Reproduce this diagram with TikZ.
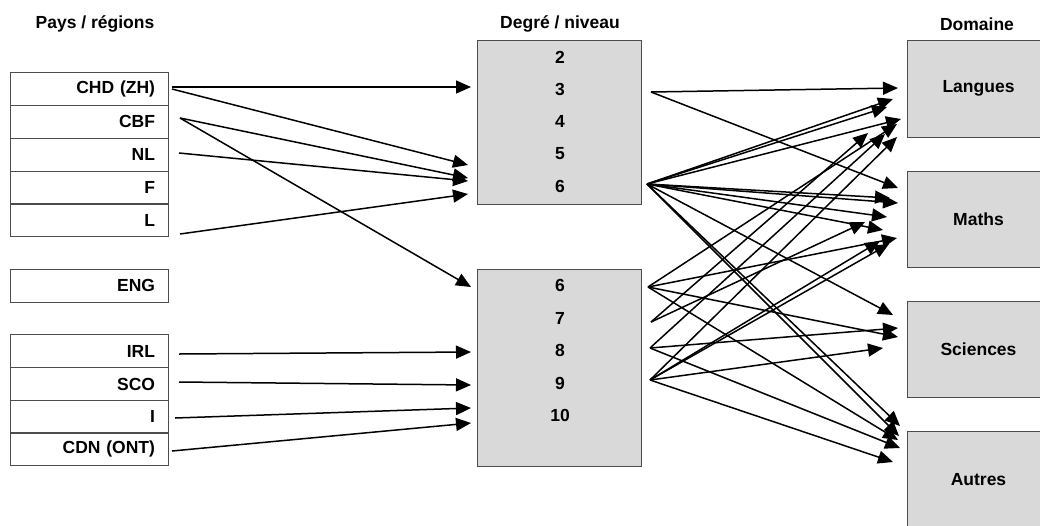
\documentclass[tikz,border=0pt]{standalone}
\usepackage{fontspec}
\setmainfont{Liberation Sans}
\usetikzlibrary{arrows.meta}
\begin{document}
\begin{tikzpicture}[x=1pt,y=-1pt,
  lbl/.style={font=\fontsize{17.5}{19}\selectfont\bfseries, inner sep=0pt},
  row/.style={draw=black!70, line width=1pt, minimum width=158pt, minimum height=33pt,
    text width=132pt, align=right, inner xsep=13pt, inner ysep=0pt, font=\fontsize{17.5}{19}\selectfont\bfseries},
  gbox/.style={draw=black!70, fill=black!15, line width=1pt, inner sep=0pt},
  dbox/.style={gbox, minimum width=143pt, font=\fontsize{17.5}{19}\selectfont\bfseries},
  arr/.style={line width=1.5pt, -{Triangle[length=15pt,width=13pt]}}]
\useasboundingbox (0,0) rectangle (1040,525);
\clip (0,0) rectangle (1040,525);
% headers
\node[lbl] (h1) at (95,24) {Pays / régions};
\node[lbl] (h2) at (560,24) {Degré / niveau};
\node[lbl] (h3) at (977,24) {Domaine};
% left rows
\node[row] (chd) at (89,88.5) {CHD (ZH)};
\node[row] (cbf) at (89,121.5) {CBF};
\node[row] (nl) at (89,154.5) {NL};
\node[row] (f) at (89,187.5) {F};
\node[row] (l) at (89,220) {L};
\node[row] (eng) at (89,285.5) {ENG};
\node[row] (irl) at (89,351) {IRL};
\node[row] (sco) at (89,384) {SCO};
\node[row] (i) at (89,416.5) {I};
\node[row] (cdn) at (89,449) {CDN (ONT)};
% middle boxes
\node[gbox, minimum width=164pt, minimum height=164pt] (top) at (559,122) {};
\node[gbox, minimum width=164pt, minimum height=197pt] (bot) at (559,367.5) {};
\node[lbl] (t2) at (560,57) {2};
\node[lbl] (t3) at (560,89) {3};
\node[lbl] (t4) at (560,121) {4};
\node[lbl] (t5) at (560,154) {5};
\node[lbl] (t6) at (560,186) {6};
\node[lbl] (b6l) at (560,285) {6};
\node[lbl] (b7l) at (560,318) {7};
\node[lbl] (b8l) at (560,350) {8};
\node[lbl] (b9l) at (560,383) {9};
\node[lbl] (b10l) at (560,415) {10};
% right boxes
\node[dbox, minimum height=97pt] (lang) at (978.5,88.5) {Langues};
\node[dbox, minimum height=96pt] (math) at (978.5,219) {Maths};
\node[dbox, minimum height=96pt] (sci) at (978.5,349) {Sciences};
\node[dbox, minimum height=97pt] (aut) at (978.5,479.5) {Autres};
% left connector ends
\coordinate (pchd1) at (172,87);
\coordinate (pchd2) at (172,89);
\coordinate (pcbf) at (180,118);
\coordinate (pnl) at (179,153);
\coordinate (pl) at (180,234);
\coordinate (pirl) at (179,354);
\coordinate (psco) at (179,382);
\coordinate (pi) at (175,418);
\coordinate (pcdn) at (172,451);
\coordinate (e3) at (471,87);
\coordinate (e6a) at (468,165);
\coordinate (e6b) at (468,178);
\coordinate (e6c) at (468,181);
\coordinate (e6d) at (468,194);
\coordinate (eb6) at (471,287);
\coordinate (eb8) at (471,352);
\coordinate (eb9) at (471,385);
\coordinate (eb10a) at (471,408);
\coordinate (eb10b) at (471,423);
\draw[arr] (pchd1) -- (e3);
\draw[arr] (pchd2) -- (e6a);
\draw[arr] (pcbf) -- (e6b);
\draw[arr] (pcbf) -- (eb6);
\draw[arr] (pnl) -- (e6c);
\draw[arr] (pl) -- (e6d);
\draw[arr] (pirl) -- (eb8);
\draw[arr] (psco) -- (eb9);
\draw[arr] (pi) -- (eb10a);
\draw[arr] (pcdn) -- (eb10b);
% right sources
\coordinate (s3) at (651,92);
\coordinate (s6) at (647,184);
\coordinate (q6) at (648,287);
\coordinate (q7) at (651,322);
\coordinate (q8) at (650,348);
\coordinate (q9) at (650,380);
% right targets
\coordinate (L1) at (898,88);
\coordinate (L2) at (893,99);
\coordinate (L3) at (887,107);
\coordinate (L4) at (901,119);
\coordinate (L5) at (897,124);
\coordinate (L6) at (868,133);
\coordinate (L7) at (885,134);
\coordinate (L8) at (897,137);
\coordinate (M1) at (898,188);
\coordinate (M2) at (890,198);
\coordinate (M3) at (898,203);
\coordinate (M4) at (887,217);
\coordinate (M5) at (883,230);
\coordinate (M6) at (865,222);
\coordinate (M7) at (897,238);
\coordinate (M8) at (880,241);
\coordinate (M9) at (889,244);
\coordinate (S1) at (893,315);
\coordinate (S2) at (898,328);
\coordinate (S3) at (898,337);
\coordinate (S4) at (883,348);
\coordinate (A1) at (900,426);
\coordinate (A2) at (899,436);
\coordinate (A3) at (898,440);
\coordinate (A4) at (900,448);
\coordinate (A5) at (893,462);
\draw[arr] (s3) -- (L1);
\draw[arr] (s3) -- (M1);
\foreach \t in {L2,L3,L4,M2,M3,M4,M5,S1,A1,A2} \draw[arr] (s6) -- (\t);
\foreach \t in {L5,M7,S3,A3} \draw[arr] (q6) -- (\t);
\foreach \t in {L6,M6} \draw[arr] (q7) -- (\t);
\foreach \t in {L7,S2,A4} \draw[arr] (q8) -- (\t);
\foreach \t in {L8,M8,M9,S4,A5} \draw[arr] (q9) -- (\t);
\end{tikzpicture}
\end{document}
